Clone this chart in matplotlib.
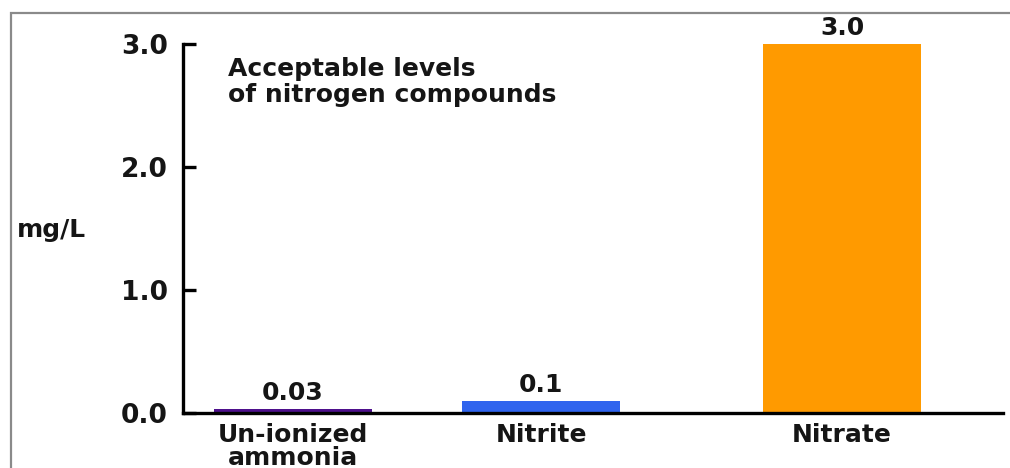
import matplotlib
matplotlib.use("Agg")
import matplotlib.pyplot as plt
from matplotlib.patches import Rectangle

# Data
categories = ["Un-ionized\nammonia", "Nitrite", "Nitrate"]
levels = [0.03, 0.1, 3.0]
value_labels = ["0.03", "0.1", "3.0"]
bar_colors = ["#4E108C", "#3064EE", "#FF9A00"]
y_ticks = [0.0, 1.0, 2.0, 3.0]
y_tick_labels = ["0.0", "1.0", "2.0", "3.0"]

# Layout
W, H = 1010, 468
x_pos = [1.0, 2.0, 3.214]
bar_width = 0.64
FONT = "DejaVu Sans"

fig = plt.figure(figsize=(W / 100, H / 100), dpi=100)
fig.patch.set_facecolor("white")

# Outer gray frame
fig.patches.append(Rectangle((11 / W, -0.1), 1.2, 1.1 - 13 / H,
                             transform=fig.transFigure, fill=False,
                             edgecolor="#8a8a8a", linewidth=1.6))

ax = fig.add_axes([183 / W, (H - 413) / H, (1003 - 183) / W, (413 - 44) / H])
ax.bar(x_pos, levels, width=bar_width, color=bar_colors, zorder=2)

ax.set_xlim(0.556, 3.863)
ax.set_ylim(0, 3.0)

for s in ("top", "right"):
    ax.spines[s].set_visible(False)
for s in ("left", "bottom"):
    ax.spines[s].set_linewidth(2.4)
    ax.spines[s].set_zorder(3)

ax.set_yticks(y_ticks, y_tick_labels)
ax.tick_params(axis="y", direction="in", length=9, width=2.4, pad=11,
               labelsize=19)
ax.set_xticks(x_pos, categories)
ax.tick_params(axis="x", length=0, pad=7, labelsize=18)
for lab in ax.get_yticklabels():
    lab.set_fontfamily(FONT)
    lab.set_fontweight("bold")
    lab.set_color("#151515")
for lab in ax.get_xticklabels():
    lab.set_fontfamily(FONT)
    lab.set_fontweight("bold")
    lab.set_linespacing(0.95)
    lab.set_color("#151515")

# Value labels above each bar
for x, v, t in zip(x_pos, levels, value_labels):
    ax.annotate(t, (x, v), xytext=(0, 3), textcoords="offset points",
                ha="center", va="bottom", fontsize=18, fontweight="bold",
                family=FONT, annotation_clip=False, color="#151515")

# Axis unit label
fig.text(17 / W, 1 - 230 / H, "mg/L", ha="left", va="center",
         fontsize=18, fontweight="bold", family=FONT, color="#151515")

# Title inside the plot
fig.text(228 / W, 1 - 57 / H, "Acceptable levels\nof nitrogen compounds",
         ha="left", va="top", fontsize=18, fontweight="bold", family=FONT,
         linespacing=1.1, color="#151515")

fig.savefig("out.png", dpi=100, facecolor="white")
